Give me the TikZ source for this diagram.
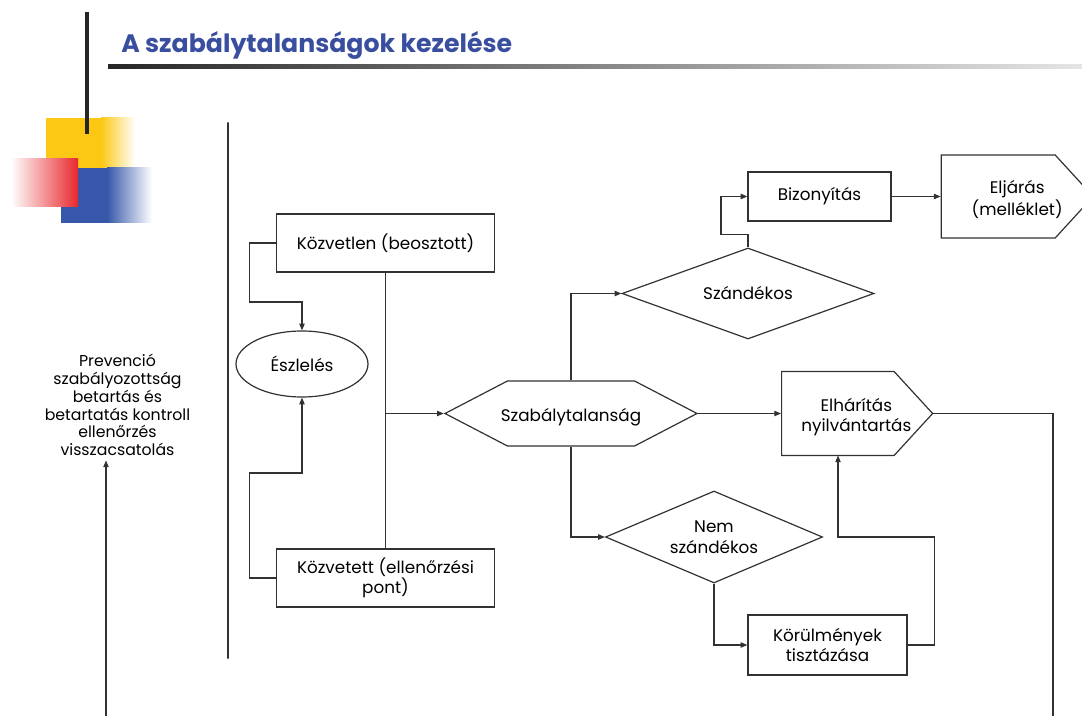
\documentclass[tikz,border=0pt]{standalone}
\usepackage{fontspec}
\setmainfont{Poppins}
\usetikzlibrary{positioning,shapes.geometric,shapes.symbols,arrows.meta,calc}
\definecolor{TitleBlue}{RGB}{58,78,160}
\definecolor{SqYellow}{RGB}{252,200,20}
\definecolor{SqRed}{RGB}{232,40,45}
\definecolor{SqBlue}{RGB}{55,88,170}
\definecolor{LineGray}{RGB}{50,50,50}
\newcommand{\rbox}[3]{
    \node(#1)[
        draw,
        line width=0.9pt,
        color=LineGray,
        text=black,
        inner sep=0pt,
        align=center,
        #2
    ]{#3};
}
\newcommand{\dbox}[3]{
    \node(#1)[
        draw,
        diamond,
        aspect=2.8,
        line width=0.9pt,
        color=LineGray,
        text=black,
        inner sep=0pt,
        align=center,
        #2
    ]{#3};
}
% signal shapes: text kept in a zero-width box, shifted by #4
\newcommand{\sigbox}[4]{
    \node(#1)[
        draw,
        signal,
        line width=0.9pt,
        color=LineGray,
        text=black,
        inner sep=0pt,
        #2
    ]{\makebox[0pt][c]{\hspace*{#4}\raisebox{-3pt}[\height][\depth]{\begin{tabular}{@{}c@{}}#3\end{tabular}}}};
}

\begin{document}
\begin{tikzpicture}[x=0.75pt, y=-0.75pt,
    >={Triangle[length=5pt,width=4pt]},
    font=\fontsize{12.6}{15.5}\selectfont]
	\clip (0,0) rectangle (1082,716);
	
	% corner squares and title
	\fill[SqYellow] (46,118) rectangle (102,168);
	\shade[left color=SqYellow, right color=white] (101,118) rectangle (135,168);
	\fill[SqBlue] (61,168) rectangle (108,223);
	\shade[left color=SqBlue, right color=white] (107,168) rectangle (152,223);
	\shade[left color=white, right color=SqRed] (11,159) rectangle (78,207);
	\fill[black!85] (84.5,12) rectangle (88.5,134);
	\shade[left color=black!85, right color=black!10] (108,65) rectangle (1082,68.5);
	\node (title) [anchor=west, inner sep=0pt, text=TitleBlue,
	    font=\fontsize{18.9}{22}\selectfont\bfseries] at (121,45) {A szabálytalanságok kezelése};
	
	\node (sep) [draw=LineGray, line width=0.8pt, minimum height=402pt, inner sep=0pt, minimum width=0pt] at (228,390.5) {};
	
	\node (prevencio) [align=center, font=\fontsize{11.8}{13.35}\selectfont] at (117.5,405) {Prevenció\\szabályozottság\\betartás és\\betartatás kontroll\\ellenőrzés\\visszacsatolás};
	\coordinate (base) at (106,720);
	\draw[->, line width=0.8pt, LineGray] (base) -- (base |- prevencio.south);
	
	% left part
	\rbox{kozvetlen}{at={(385.5,243)}, minimum width=163pt, minimum height=43.5pt}{Közvetlen (beosztott)}
	\rbox{kozvetett}{at={(385.5,578)}, minimum width=163pt, minimum height=43.5pt}{Közvetett (ellenőrzési\\pont)}
	\node (eszleles) [draw, ellipse, line width=0.9pt, color=LineGray, text=black, inner sep=0pt,
	    minimum width=99pt, minimum height=49.5pt] at (302,364) {Észlelés};
	
	% decisions
	\sigbox{szabaly}{at={(571,413.5)}, signal to=east and west, signal pointer angle=55, minimum width=189pt, minimum height=48.75pt}{Szabálytalanság}{0pt}
	\dbox{szandekos}{at={(748,293.5)}, minimum width=189pt, minimum height=68.25pt}{Szándékos}
	\dbox{nemszand}{at={(714,537)}, minimum width=162.75pt, minimum height=69pt}{Nem\\szándékos}
	
	% right part
	\rbox{bizonyitas}{at={(819.5,196.5)}, minimum width=107.25pt, minimum height=36.75pt}{Bizonyítás}
	\sigbox{eljaras}{right=36.75pt of bizonyitas, signal to=east, signal pointer angle=95, minimum width=114pt, minimum height=62.25pt}{Eljárás\\(melléklet)}{28.5pt}
	\sigbox{elharitas}{anchor=west, at={(781,413.5)}, signal to=east, signal pointer angle=95, minimum width=113.25pt, minimum height=63pt}{Elhárítás\\nyilvántartás}{27.75pt}
	\rbox{korulmenyek}{at={(827.5,645)}, minimum width=119.25pt, minimum height=45pt}{Körülmények\\tisztázása}
	
	\begin{scope}[line width=0.8pt, color=LineGray]
	\draw[->] (kozvetlen.west) -- ++(-27,0) -- ++(0,59) -| (eszleles.north);
	\draw[->] (kozvetett.west) -- ++(-27,0) -- ++(0,-105) -| (eszleles.south);
	\draw (kozvetlen.south) -- (kozvetett.north);
	\draw[->] (kozvetlen.south |- szabaly.west) -- (szabaly.west);
	\draw[->] (szabaly.north) |- (szandekos.west);
	\draw[->] (szabaly.south) |- (nemszand.west);
	\draw[->] (szabaly.east) -- (elharitas.west);
	\draw[->] (szandekos.north) -- ++(0,-13) -- ++(-27,0) |- (bizonyitas.west);
	\draw[->] (bizonyitas.east) -- (eljaras.west);
	\draw[->] (nemszand.south) |- (korulmenyek.west);
	\draw[->] (korulmenyek.east) -- ++(27,0) -- ++(0,-108) -| ([xshift=42.75pt, yshift=-31.5pt]elharitas.west);
	\coordinate (out) at (1053,720);
	\draw (elharitas.east) -| (out);
	\end{scope}
\end{tikzpicture}
\end{document}
